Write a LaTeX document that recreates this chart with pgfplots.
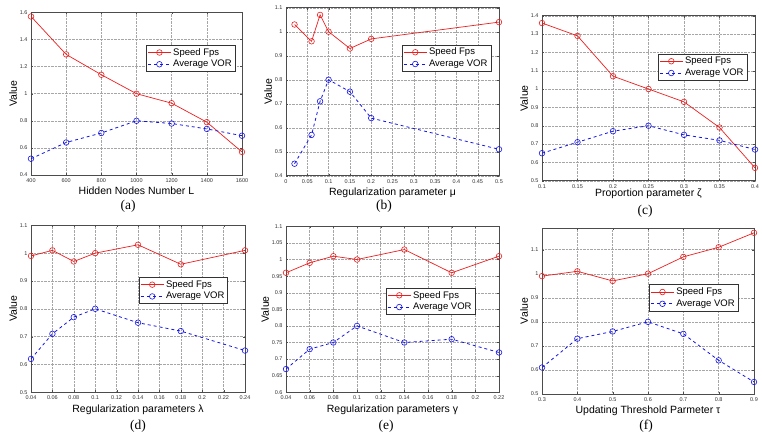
\documentclass[border=0pt]{standalone}
\usepackage{pgfplots}
\pgfplotsset{compat=1.18}
\usepackage{fontspec}
\setmainfont{Liberation Sans}
\newfontfamily\capfont{Liberation Serif}
\definecolor{mred}{RGB}{235,30,30}
\definecolor{mblue}{RGB}{20,20,230}
\pgfplotsset{
  myax/.style={
    scale only axis,
    grid=major,
    grid style={densely dotted, gray!70, line width=0.4pt},
    axis line style={black!70, line width=0.5pt},
    tick align=inside, major tick length=2pt,
    tick style={black!70},
    tick label style={font=\fontsize{5.5}{6}\selectfont, text=black!80},
    label style={font=\fontsize{10.5}{12}\selectfont},
    ylabel={Value},
    ylabel style={yshift=-4pt},
    xlabel style={yshift=2pt},
    scaled ticks=false,
    /pgf/number format/assume math mode=true,
    /pgf/number format/1000 sep={},
    legend style={font=\fontsize{9.5}{11}\selectfont, draw=black!80, inner sep=1.2pt, row sep=-0.5pt, anchor=north east},
    legend cell align=left,
    legend image code/.code={\draw[mark repeat=2,mark phase=2] plot coordinates {(0cm,0cm)(0.4cm,0cm)(0.8cm,0cm)};},
  },
  redl/.style={color=mred, line width=0.7pt, mark=o, mark size=2.8pt, mark options={solid, line width=0.6pt}},
  bluel/.style={color=mblue, line width=0.8pt, dashed, mark=o, mark size=2.8pt, mark options={solid, line width=0.6pt}},
}
\begin{document}
\begin{tikzpicture}
\useasboundingbox (0pt,0pt) rectangle (762pt,437pt);
% (a)
\begin{axis}[myax, at={(31pt,262pt)}, anchor=south west, width=211pt, height=162.6pt,
  xmin=400, xmax=1600, ymin=0.4, ymax=1.6,
  xtick={400,600,...,1600}, ytick={0.4,0.6,0.8,1,1.2,1.4,1.6},
  xlabel={Hidden Nodes Number L},
  legend style={at={(0.967,0.80)}}]
\addplot[redl] coordinates {(400,1.57)(600,1.29)(800,1.14)(1000,1.00)(1200,0.93)(1400,0.79)(1600,0.57)};
\addlegendentry{Speed Fps}
\addplot[bluel] coordinates {(400,0.52)(600,0.64)(800,0.71)(1000,0.80)(1200,0.78)(1400,0.74)(1600,0.69)};
\addlegendentry{Average VOR}
\end{axis}
% (b)
\begin{axis}[myax, at={(286pt,261.3pt)}, anchor=south west, width=213pt, height=168pt,
  xmin=0, xmax=0.5, ymin=0.4, ymax=1.1,
  xtick={0,0.05,0.1,0.15,0.2,0.25,0.3,0.35,0.4,0.45,0.5},
  xticklabels={0,0.05,0.1,0.15,0.2,0.25,0.3,0.35,0.4,0.45,0.5},
  ytick={0.4,0.5,0.6,0.7,0.8,0.9,1,1.1},
  xlabel={Regularization parameter μ},
  legend style={at={(0.962,0.78)}}]
\addplot[redl] coordinates {(0.02,1.03)(0.06,0.96)(0.08,1.07)(0.1,1.00)(0.15,0.93)(0.2,0.97)(0.5,1.04)};
\addlegendentry{Speed Fps}
\addplot[bluel] coordinates {(0.02,0.45)(0.06,0.57)(0.08,0.71)(0.1,0.80)(0.15,0.75)(0.2,0.64)(0.5,0.51)};
\addlegendentry{Average VOR}
\end{axis}
% (c)
\begin{axis}[myax, at={(542pt,256.3pt)}, anchor=south west, width=213pt, height=165pt,
  xmin=0.1, xmax=0.4, ymin=0.5, ymax=1.4,
  xtick={0.1,0.15,0.2,0.25,0.3,0.35,0.4},
  xticklabels={0.1,0.15,0.2,0.25,0.3,0.35,0.4},
  ytick={0.5,0.6,0.7,0.8,0.9,1,1.1,1.2,1.3,1.4},
  xlabel={Proportion parameter ζ},
  xlabel style={yshift=4pt},
  legend style={at={(0.962,0.77)}}]
\addplot[redl] coordinates {(0.1,1.36)(0.15,1.29)(0.2,1.07)(0.25,1.00)(0.3,0.93)(0.35,0.79)(0.4,0.57)};
\addlegendentry{Speed Fps}
\addplot[bluel] coordinates {(0.1,0.65)(0.15,0.71)(0.2,0.77)(0.25,0.80)(0.3,0.75)(0.35,0.72)(0.4,0.67)};
\addlegendentry{Average VOR}
\end{axis}
% (d)
\begin{axis}[myax, at={(31pt,44.7pt)}, anchor=south west, width=214pt, height=167pt,
  xmin=0.04, xmax=0.24, ymin=0.5, ymax=1.1,
  xtick={0.04,0.06,0.08,0.1,0.12,0.14,0.16,0.18,0.2,0.22,0.24},
  xticklabels={0.04,0.06,0.08,0.1,0.12,0.14,0.16,0.18,0.2,0.22,0.24},
  ytick={0.5,0.6,0.7,0.8,0.9,1,1.1},
  xlabel={Regularization parameters λ},
  legend style={at={(0.92,0.69)}}]
\addplot[redl] coordinates {(0.04,0.99)(0.06,1.01)(0.08,0.97)(0.1,1.00)(0.14,1.03)(0.18,0.96)(0.24,1.01)};
\addlegendentry{Speed Fps}
\addplot[bluel] coordinates {(0.04,0.62)(0.06,0.71)(0.08,0.77)(0.1,0.80)(0.14,0.75)(0.18,0.72)(0.24,0.65)};
\addlegendentry{Average VOR}
\end{axis}
% (e)
\begin{axis}[myax, at={(286pt,44.7pt)}, anchor=south west, width=213pt, height=166pt,
  xmin=0.04, xmax=0.22, ymin=0.6, ymax=1.1,
  xtick={0.04,0.06,0.08,0.1,0.12,0.14,0.16,0.18,0.2,0.22},
  xticklabels={0.04,0.06,0.08,0.1,0.12,0.14,0.16,0.18,0.2,0.22},
  ytick={0.6,0.65,0.7,0.75,0.8,0.85,0.9,0.95,1,1.05,1.1},
  yticklabels={0.6,0.65,0.7,0.75,0.8,0.85,0.9,0.95,1,1.05,1.1},
  xlabel={Regularization parameters γ},
  legend style={at={(0.887,0.63)}}]
\addplot[redl] coordinates {(0.04,0.96)(0.06,0.99)(0.08,1.01)(0.1,1.00)(0.14,1.03)(0.18,0.96)(0.22,1.01)};
\addlegendentry{Speed Fps}
\addplot[bluel] coordinates {(0.04,0.67)(0.06,0.73)(0.08,0.75)(0.1,0.80)(0.14,0.75)(0.18,0.76)(0.22,0.72)};
\addlegendentry{Average VOR}
\end{axis}
% (f)
\begin{axis}[myax, at={(542pt,43pt)}, anchor=south west, width=212pt, height=166pt,
  xmin=0.3, xmax=0.9, ymin=0.5, ymax=1.19,
  xtick={0.3,0.4,0.5,0.6,0.7,0.8,0.9},
  ytick={0.5,0.6,0.7,0.8,0.9,1,1.1},
  xlabel={Updating Threshold Parmeter τ},
  legend style={at={(0.925,0.66)}}]
\addplot[redl] coordinates {(0.3,0.99)(0.4,1.01)(0.5,0.97)(0.6,1.00)(0.7,1.07)(0.8,1.11)(0.9,1.17)};
\addlegendentry{Speed Fps}
\addplot[bluel] coordinates {(0.3,0.61)(0.4,0.73)(0.5,0.76)(0.6,0.80)(0.7,0.75)(0.8,0.64)(0.9,0.55)};
\addlegendentry{Average VOR}
\end{axis}
% captions
\node[font=\capfont\fontsize{13.5}{15}\selectfont] at (128pt,231pt) {(a)};
\node[font=\capfont\fontsize{13.5}{15}\selectfont] at (384pt,231pt) {(b)};
\node[font=\capfont\fontsize{13.5}{15}\selectfont] at (645pt,226pt) {(c)};
\node[font=\capfont\fontsize{13.5}{15}\selectfont] at (138pt,11pt) {(d)};
\node[font=\capfont\fontsize{13.5}{15}\selectfont] at (386pt,11pt) {(e)};
\node[font=\capfont\fontsize{13.5}{15}\selectfont] at (646pt,11pt) {(f)};
\end{tikzpicture}
\end{document}
